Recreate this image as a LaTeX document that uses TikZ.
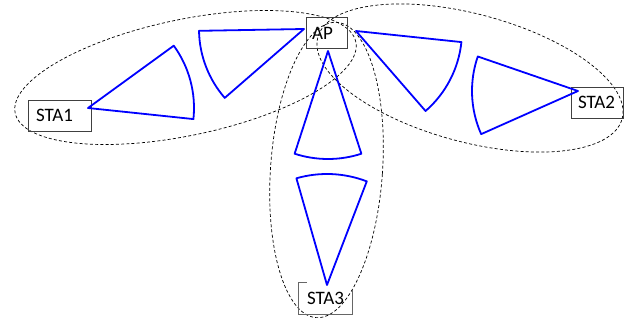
\documentclass[tikz,border=0pt]{standalone}
\usepackage{fontspec}
\setmainfont{Carlito}
\begin{document}
\begin{tikzpicture}[x=1pt,y=1pt,
  box/.style={draw=black!75, line width=0.8pt, inner xsep=8pt, inner ysep=0pt,
    minimum height=31pt, align=left, font=\fontsize{19}{21}\selectfont, anchor=center},
  ell/.style={draw=black, line width=0.7pt, dash pattern=on 3pt off 2.2pt},
  sector/.style={draw=blue, line width=1.8pt, line join=round}]
\useasboundingbox (0,0) rectangle (629,-326);

% dashed ellipses
\draw[ell] (185.5,-77.5) ellipse[x radius=174, y radius=58, rotate=11.8];
\draw[ell] (470,-78) ellipse[x radius=157.5, y radius=64, rotate=-15];
\draw[ell] (326.5,-170) ellipse[x radius=56, y radius=148, rotate=-4];

% boxes
\node[box, text width=47pt] (sta1) at (59.5,-115.5) {STA1};
\node[box, inner xsep=6pt, text width=29pt] (ap) at (326.5,-33) {AP};
\node[box, inner xsep=7pt, text width=38pt] (sta2) at (597,-102.5) {STA2};
\node[box, draw=none, text width=37pt] (sta3) at (325.5,-298.5) {STA3};
\draw[black!60, line width=0.8pt] ([xshift=8pt]sta3.north west) -- (sta3.north west)
  -- (sta3.south west) -- (sta3.south east) -- ([yshift=-7pt]sta3.north east);

% beam sectors
\coordinate (a1) at (88,-108);
\coordinate (a2) at (304,-29);
\coordinate (a3) at (356,-31);
\coordinate (a4) at (578,-91);
\coordinate (a5) at (328,-51);
\coordinate (a6) at (327,-285);
\draw[sector] (a1) -- ++(-6:106) arc[start angle=-6, end angle=36, radius=106] -- cycle;
\draw[sector] (a2) -- ++(181:105) arc[start angle=181, end angle=221, radius=105] -- cycle;
\draw[sector] (a3) -- ++(-6:106) arc[start angle=-6, end angle=-49, radius=106] -- cycle;
\draw[sector] (a4) -- ++(161:106) arc[start angle=161, end angle=204, radius=106] -- cycle;
\draw[sector] (a5) -- ++(-108:108) arc[start angle=-108, end angle=-72, radius=108] -- cycle;
\draw[sector] (a6) -- ++(69:111) arc[start angle=69, end angle=106, radius=111] -- cycle;
\end{tikzpicture}
\end{document}
